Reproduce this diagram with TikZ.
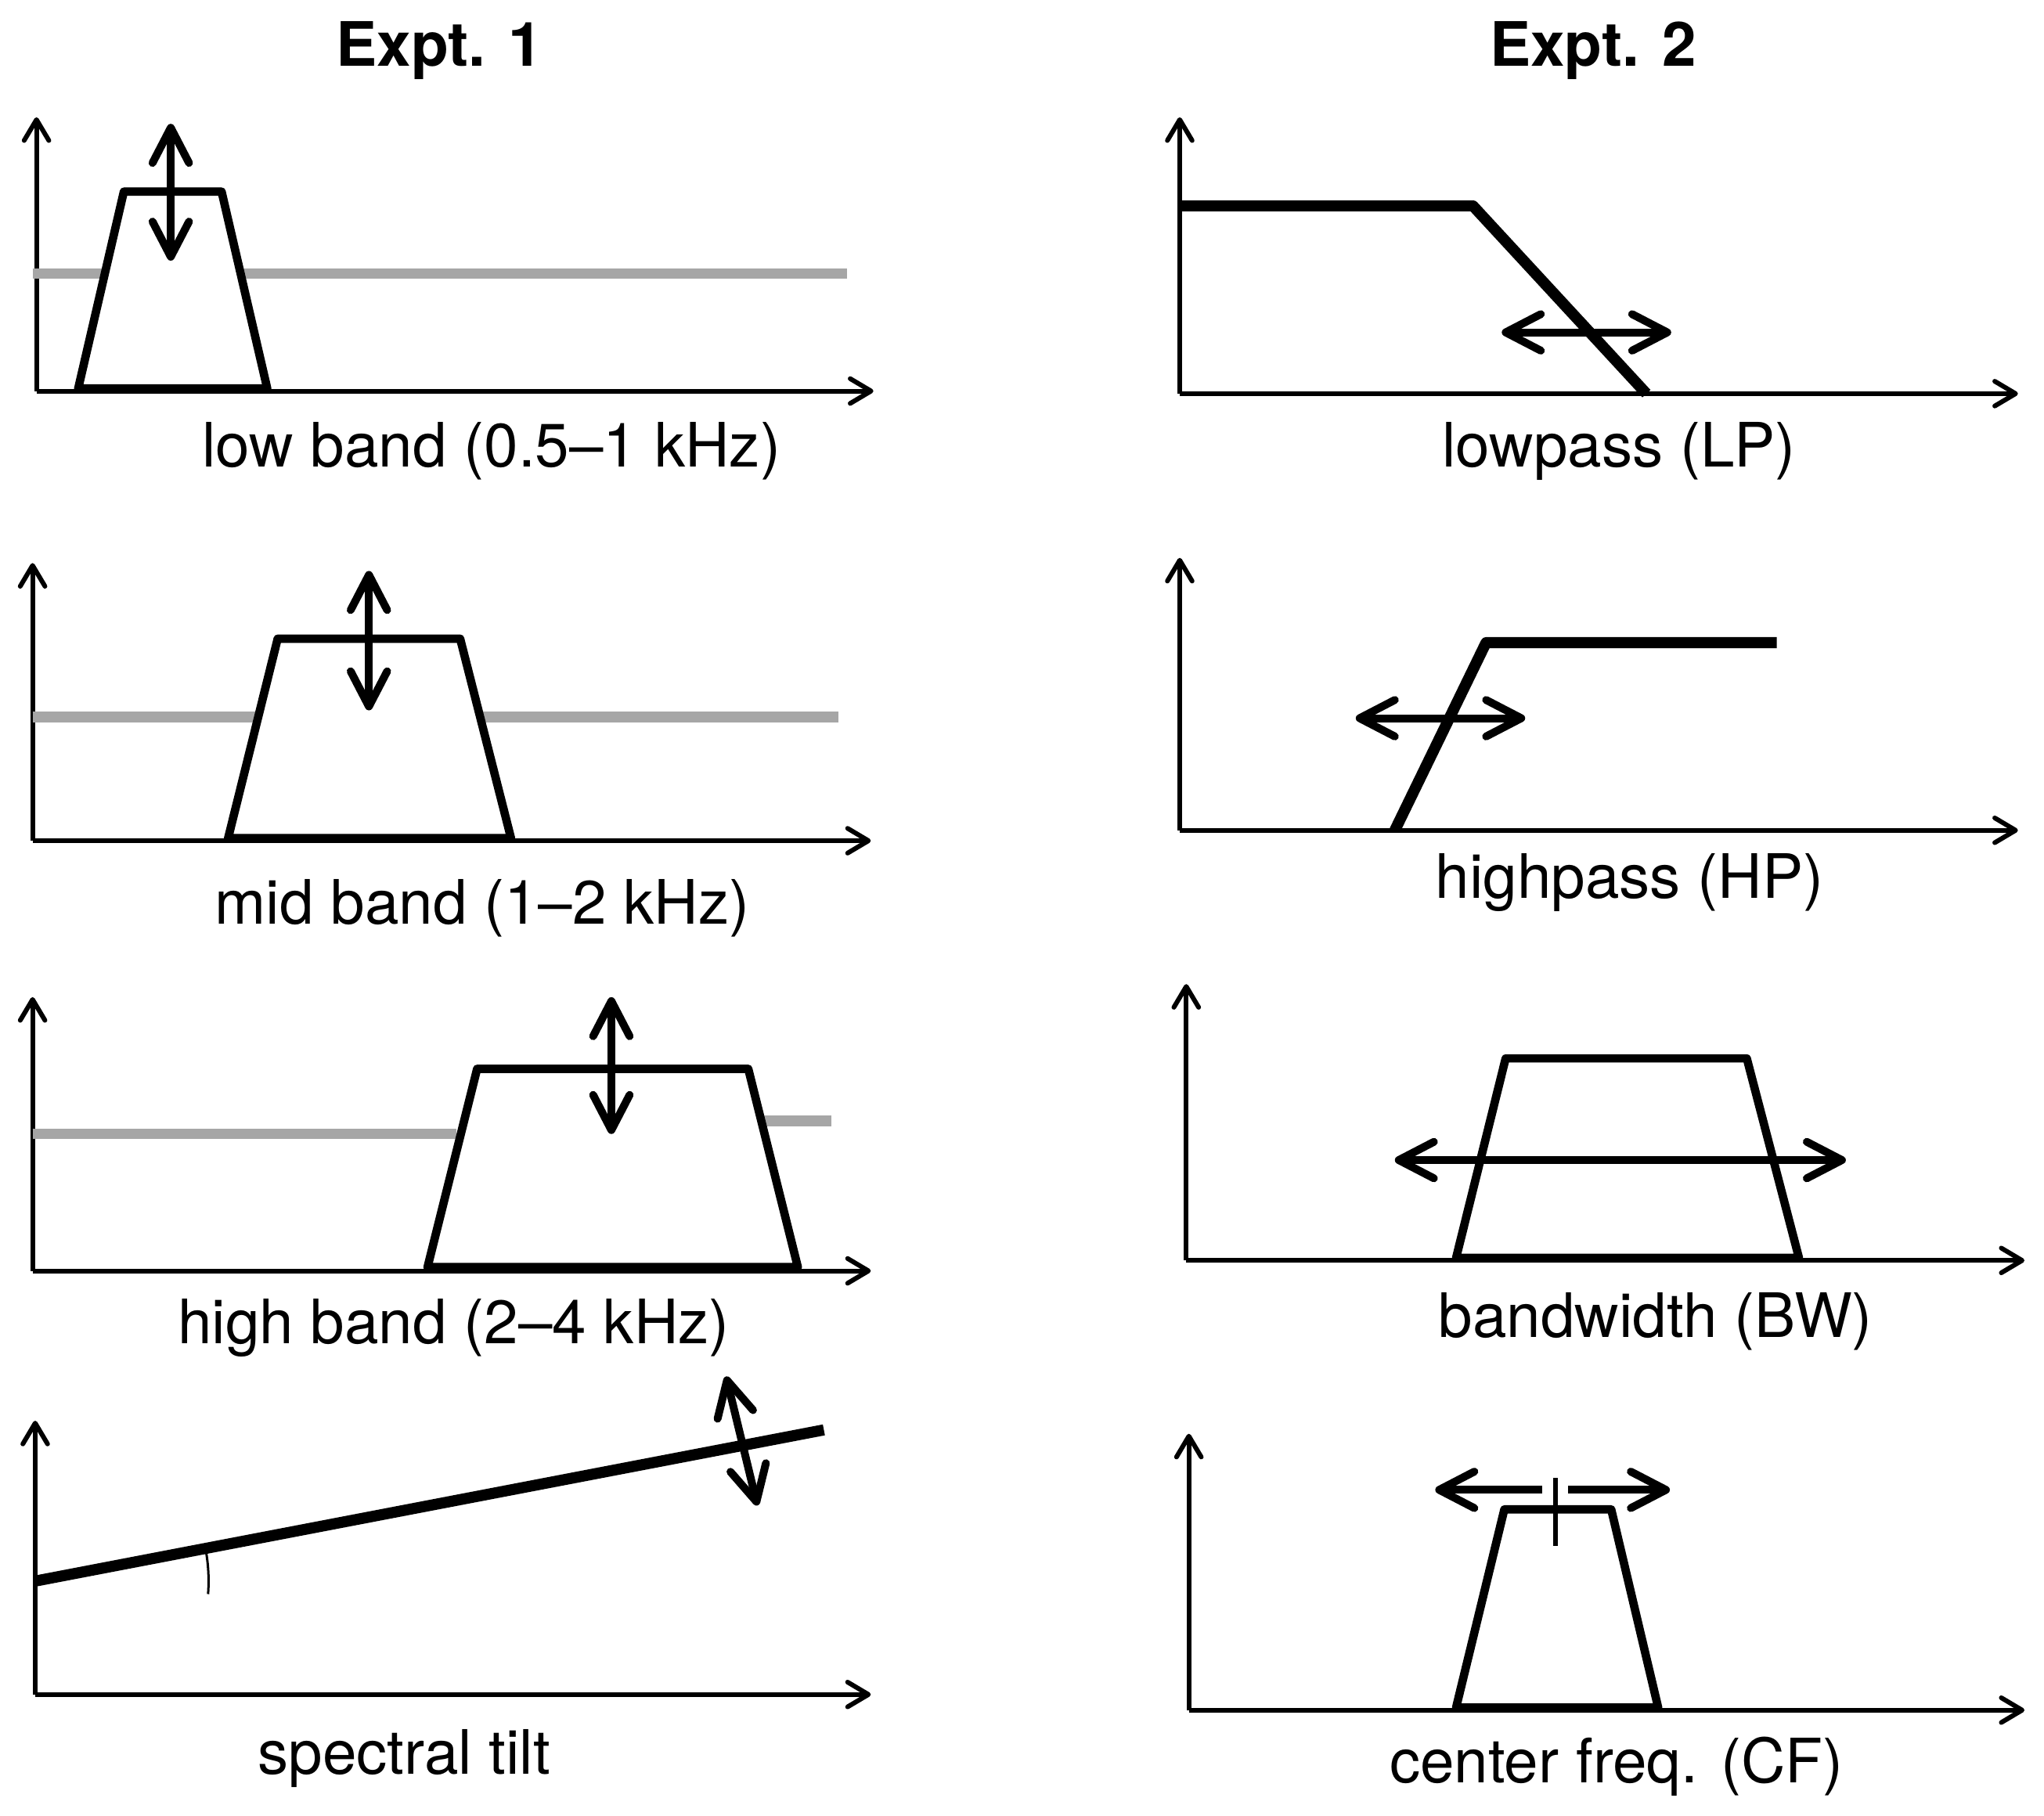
\documentclass[tikz,border=0pt]{standalone}
\usepackage{fontspec}
\setmainfont{TeX Gyre Heros}
\usepackage{tikz}
\usetikzlibrary{arrows.meta, positioning, calc}
\usepackage{xcolor}
\definecolor{refgray}{RGB}{166,166,166}

\begin{document}
\begin{tikzpicture}[x=1pt, y=-1pt,
  every node/.style={font=\fontsize{47}{56}\selectfont},
  axis/.style={line width=3.6pt, -{Straight Barb[round,length=16pt,width=19pt]}},
  curve/.style={line width=6.4pt, line join=round},
  filter/.style={line width=8.5pt, line join=round},
  refline/.style={line width=8pt, refgray},
  movearrow/.style={line width=6pt,
    {Straight Barb[round,length=27pt,width=28pt]}-{Straight Barb[round,length=27pt,width=28pt]}}]
  \useasboundingbox (0,0) rectangle (1568,1393);

  % titles
  \node[font=\fontsize{47}{56}\selectfont\bfseries] (t1) at (337,39) {Expt. 1};
  \node[font=\fontsize{47}{56}\selectfont\bfseries] (t2) at (1222,39) {Expt. 2};

  % Expt. 1: low band
  \draw[axis] (28,300) -- (28,90);
  \draw[axis] (28,300) -- (670,300);
  \draw[refline] (25,210) -- (650,210);
  \draw[curve, fill=white] (60,298) -- (95,147) -- (170,147) -- (205,298) -- cycle;
  \draw[movearrow] (131,95) -- (131,200);
  \node (low) at (377,346) {low band (0.5–1 kHz)};

  % Expt. 1: mid band
  \draw[axis] (25,645) -- (25,432);
  \draw[axis] (25,645) -- (668,645);
  \draw[refline] (25,550) -- (643,550);
  \draw[curve, fill=white] (175,643) -- (213,490) -- (353,490) -- (392,643) -- cycle;
  \draw[movearrow] (283,438) -- (283,545);
  \node (mid) at (370,697) {mid band (1–2 kHz)};

  % Expt. 1: high band
  \draw[axis] (25,975) -- (25,765);
  \draw[axis] (25,975) -- (668,975);
  \draw[refline] (25,870) -- (350,870);
  \draw[refline] (580,860) -- (638,860);
  \draw[curve, fill=white] (328,972) -- (366,820) -- (574,820) -- (612,972) -- cycle;
  \draw[movearrow] (469,765) -- (469,870);
  \node (high) at (348,1019) {high band (2–4 kHz)};

  % Expt. 1: spectral tilt
  \coordinate (tiltL) at (27,1213);
  \coordinate (tiltR) at (632,1097);
  \draw[axis] (27,1300) -- (27,1090);
  \draw[axis] (27,1300) -- (668,1300);
  \draw[line width=8.5pt] (tiltL) -- (tiltR);
  \draw[line width=1.8pt] ($(tiltL)+(-10.85:133)$) arc[start angle=-10.85, end angle=4.3, radius=133];
  \draw[movearrow] (557,1056) -- (581,1155);
  \node (tilt) at (310,1349) {spectral tilt};

  % Expt. 2: lowpass
  \draw[axis] (905,302) -- (905,90);
  \draw[axis] (905,302) -- (1548,302);
  \draw[filter] (905,158) -- (1130,158) -- (1263,302);
  \draw[movearrow] (1152,255) -- (1282,255);
  \node (lp) at (1242,346) {lowpass (LP)};

  % Expt. 2: highpass
  \draw[axis] (905,637) -- (905,428);
  \draw[axis] (905,637) -- (1548,637);
  \draw[filter] (1070,637) -- (1140,493) -- (1363,493);
  \draw[movearrow] (1040,551) -- (1170,551);
  \node (hp) at (1250,677) {highpass (HP)};

  % Expt. 2: bandwidth
  \draw[axis] (910,967) -- (910,755);
  \draw[axis] (910,967) -- (1553,967);
  \draw[curve] (1117,965) -- (1155,812) -- (1340,812) -- (1380,965) -- cycle;
  \draw[movearrow] (1070,890) -- (1416,890);
  \node (bw) at (1270,1014) {bandwidth (BW)};

  % Expt. 2: center freq.
  \draw[axis] (912,1312) -- (912,1100);
  \draw[axis] (912,1312) -- (1553,1312);
  \draw[curve] (1117,1310) -- (1154,1158) -- (1236,1158) -- (1272,1310) -- cycle;
  \coordinate (cf) at (1193,1143);
  \draw[line width=3.6pt] (1193,1134) -- (1193,1186);
  \draw[line width=6pt, -{Straight Barb[round,length=27pt,width=28pt]}] (1183,1143) -- (1101,1143);
  \draw[line width=6pt, -{Straight Barb[round,length=27pt,width=28pt]}] (1203,1143) -- (1281,1143);
  \node (cfl) at (1240,1355) {center freq. (CF)};
\end{tikzpicture}
\end{document}
